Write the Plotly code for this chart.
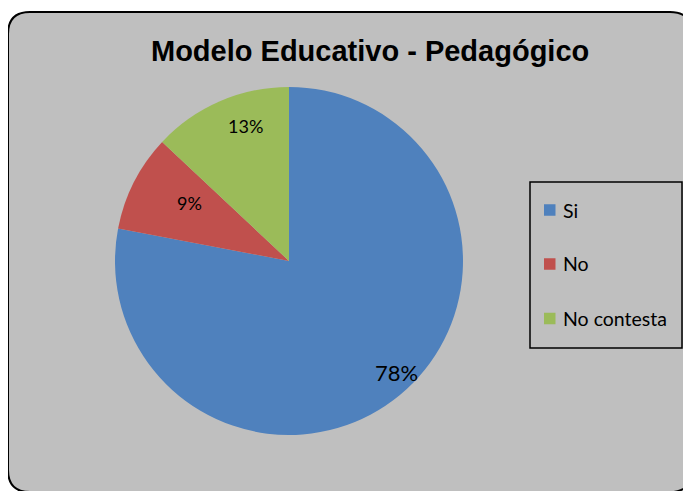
import math
import plotly.graph_objects as go

# ---- data ----
labels = ["Si", "No", "No contesta"]
values = [78, 9, 13]
colors = ["#4F81BD", "#C0504D", "#9BBB59"]
title_text = "Modelo Educativo - Pedagógico"

# ---- layout helpers (page pixels -> paper); page body has an 8px margin ----
W, H = 691, 491
OFF = 8
def px(x):
    return (x - OFF) / W
def py(y):
    return 1 - (y - OFF) / H

# pie geometry
cx, cy, R = 289, 261, 174

fig = go.Figure()
fig.add_trace(go.Pie(
    labels=labels,
    values=values,
    marker=dict(colors=colors, line=dict(width=0)),
    sort=False,
    direction="clockwise",
    rotation=0,
    textinfo="none",
    hoverinfo="label+percent",
    showlegend=False,
    domain=dict(x=[px(cx - R), px(cx + R)], y=[py(cy + R), py(cy - R)]),
))

# percentage labels placed from the data (angle within each slice, radial fraction)
label_angle_frac = [0.484, 0.6, 0.615]
label_radius = [0.89, 0.665, 0.816]
label_size = [22, 18, 18]
total = sum(values)
cum = 0
annotations = []
for v, af, f, s in zip(values, label_angle_frac, label_radius, label_size):
    ang = (cum + v * af) / total * 2 * math.pi
    cum += v
    x = cx + R * f * math.sin(ang)
    y = cy - R * f * math.cos(ang)
    annotations.append(dict(
        x=px(x), y=py(y), xref="paper", yref="paper",
        text=f"{round(v / total * 100)}%", showarrow=False,
        font=dict(family="Lato, Carlito, sans-serif", size=s, color="black"),
        xanchor="center", yanchor="middle",
    ))

# title
annotations.append(dict(
    x=px(370), y=py(51), xref="paper", yref="paper", text=f"<b>{title_text}</b>",
    showarrow=False, xanchor="center", yanchor="middle",
    font=dict(family="Liberation Sans, Arial, sans-serif", size=29, color="black"),
))

# outer rounded frame
x0, y0, x1, y1, r = 8, 12, 692, 492, 22
def P(x, y):
    return f"{px(x):.5f},{py(y):.5f}"
frame_path = (f"M {P(x0 + r, y0)} L {P(x1 - r, y0)} Q {P(x1, y0)} {P(x1, y0 + r)} "
              f"L {P(x1, y1 - r)} Q {P(x1, y1)} {P(x1 - r, y1)} "
              f"L {P(x0 + r, y1)} Q {P(x0, y1)} {P(x0, y1 - r)} "
              f"L {P(x0, y0 + r)} Q {P(x0, y0)} {P(x0 + r, y0)} Z")
shapes = [dict(type="path", path=frame_path, xref="paper", yref="paper",
               fillcolor="#BFBFBF", line=dict(color="black", width=2), layer="below")]

# legend box
shapes.append(dict(type="rect", xref="paper", yref="paper",
                   x0=px(530), x1=px(682), y0=py(348), y1=py(182),
                   line=dict(color="black", width=1.5), fillcolor="rgba(0,0,0,0)", layer="above"))
legend_y = [210, 264, 318.5]
for lab, col, ly in zip(labels, colors, legend_y):
    shapes.append(dict(type="rect", xref="paper", yref="paper",
                       x0=px(544), x1=px(555.5), y0=py(ly + 5.75), y1=py(ly - 5.75),
                       fillcolor=col, line=dict(width=0), layer="above"))
    annotations.append(dict(
        x=px(561), y=py(ly), xref="paper", yref="paper", text=lab, showarrow=False,
        xanchor="left", yanchor="middle",
        font=dict(family="Lato, Carlito, sans-serif", size=19.5, color="black"),
    ))

fig.update_layout(
    width=W, height=H,
    margin=dict(l=0, r=0, t=0, b=0),
    paper_bgcolor="white",
    plot_bgcolor="white",
    shapes=shapes,
    annotations=annotations,
    showlegend=False,
)

fig.write_html("out.html")
